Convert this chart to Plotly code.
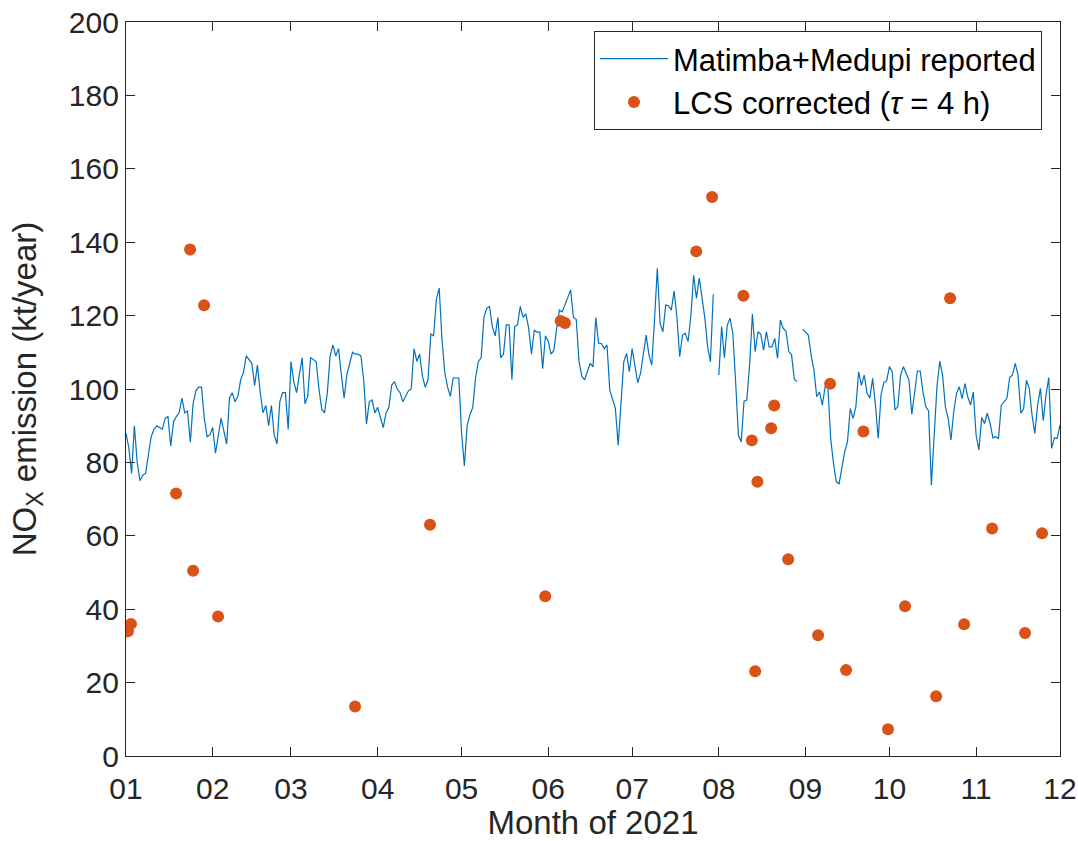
import plotly.graph_objects as go
import pandas as pd

# Daily reported NOx emission (kt/year), Matimba+Medupi, 2021-01-01 .. 2021-12-01
nox_jan = [88, 84, 77, 90, 80, 75, 76.5, 77, 82, 87, 89, 90, 89.5, 89, 92, 92.5, 84.5, 91, 92.5, 93.5,
           97.5, 93.5, 94, 85.5, 96, 99.5, 100.5, 100.5, 92, 87, 87.5]
nox_feb = [89.5, 82.5, 87.5, 92, 88.5, 85, 97.5, 99, 96.5, 98, 102.5, 104.5, 109, 108, 107, 101, 106.5,
           99, 93.5, 95.5, 90, 95.5, 87.5, 85, 96.5, 99, 99, 89]
nox_mar = [107.5, 102, 99, 104, 108.5, 96, 98, 108.5, 108, 107.5, 100, 94.5, 93.5, 99, 109, 112, 109,
           111, 104, 97.5, 104, 107, 110, 109.5, 109.5, 109, 102.5, 90.5, 96.5, 97, 93.5]
nox_apr = [95, 92, 89.5, 93.5, 95, 101, 102, 100, 99, 96.5, 98, 99.5, 100, 111, 107.5, 109.5, 103.5,
           100.5, 102.5, 115, 114.5, 124.5, 127.5, 113.5, 104.5, 100.5, 98, 103, 103, 103]
nox_may = [88, 79, 90, 93, 95, 103, 107.5, 108.5, 119.5, 122, 122.5, 117, 114.5, 119.5, 108.5, 109.5,
           117.5, 117.5, 102.5, 117, 117.5, 122.5, 119.5, 120.5, 116.5, 109.5, 116, 115.5, 115.5, 105.5, 114.5]
nox_jun = [113, 109.5, 110.5, 116.5, 121.5, 121, 123, 125, 127, 119.5, 119, 107.5, 103.5, 102.5, 104.5,
           107, 106, 119.5, 112.5, 112.4, 111, 112, 99.7, 97.3, 94.7, 84.7, 95.2, 107.4, 109.7, 104.7]
nox_jul = [111, 106, 101.7, 104.3, 110.2, 114.7, 109.3, 106.5, 118.8, 132.9, 117.9, 115.6, 122.9, 122.7,
           121.5, 126.7, 119.7, 108.8, 114.7, 115.2, 112.9, 120, 131, 124.7, 130.2, 125.2, 119.3, 111.5,
           107.4, 125.8, None]
nox_aug = [103.8, 117, 108.5, 117.4, 119.3, 115.2, 102, 87.4, 85.6, 96.7, 97, 106.5, 120.4, 110.2, 115.6,
           114.9, 110.6, 115.6, 111.5, 111.5, 113.8, 108.3, 118.8, 116.5, 115.8, 110.2, 109.3, 102.7, 102,
           None, 116.3]
nox_sep = [115.5, 114.7, 109.3, 105.2, 97.9, 99.2, 95.6, 100.6, 100.6, 86.5, 79.7, 74.7, 74.2, 78.4, 82.9,
           85.6, 94.7, 92, 95.2, 104.7, 101, 103.8, 98.8, 97.6, 102.9, 95.6, 86.5, 98.4, 101.8, 102.2]
nox_oct = [106.1, 104.7, 94.3, 95.2, 103.8, 106.1, 104.3, 102.4, 93.1, 99.2, 104.9, 104.9, 99.2, 95.2, 94,
           73.8, 87, 100.6, 107.6, 103.8, 95.2, 92, 86.1, 93.8, 98.8, 100.6, 97.4, 101.5, 97.9, 95.6, 99.2]
nox_nov_dec1 = [87.4, 83.4, 92.2, 90.6, 93.4, 90.6, 86.7, 87, 86.5, 95.6, 96.5, 97.4, 103.1, 103.8, 107,
                103.8, 93.4, 94.7, 102.4, 100.2, 92.9, 87.9, 95.6, 100.2, 91.4, 98.4, 103.1, 83.8, 86.7,
                86.5, 90.2]

nox_reported = (nox_jan + nox_feb + nox_mar + nox_apr + nox_may + nox_jun + nox_jul + nox_aug
                + nox_sep + nox_oct + nox_nov_dec1)
report_dates = pd.date_range("2021-01-01", periods=len(nox_reported), freq="D")

# LCS corrected estimates (tau = 4 h)
lcs_dates = ["2021-01-01 17:00", "2021-01-02 19:00", "2021-01-18 22:00", "2021-01-23 22:00",
             "2021-01-25 00:00", "2021-01-28 22:00", "2021-02-02 22:00", "2021-03-23 22:00",
             "2021-04-19 17:00", "2021-05-30 22:00", "2021-06-05 10:00", "2021-06-07 00:00",
             "2021-07-23 22:00", "2021-07-29 14:00", "2021-08-09 19:00", "2021-08-12 19:00",
             "2021-08-14 00:00", "2021-08-14 19:00", "2021-08-19 17:00", "2021-08-20 19:00",
             "2021-08-25 19:00", "2021-09-05 12:00", "2021-09-09 19:00", "2021-09-15 12:00",
             "2021-09-21 17:00", "2021-09-30 12:00", "2021-10-06 14:00", "2021-10-17 17:00",
             "2021-10-22 17:00", "2021-10-27 17:00", "2021-11-06 17:00", "2021-11-18 12:00",
             "2021-11-24 14:00"]
lcs_values = [34, 36, 71.5, 138, 50.5, 122.8, 38, 13.5,
              63, 43.5, 118.5, 118, 137.5, 152.3, 125.4, 86,
              23.1, 74.7, 89.3, 95.5, 53.6, 32.9, 101.4, 23.4,
              88.4, 7.3, 40.8, 16.3, 124.7, 35.9, 62, 33.5, 60.7]

FONT = "Liberation Sans, Arial, Helvetica, sans-serif"
INK = "#262626"

fig = go.Figure()
fig.add_trace(go.Scatter(
    x=report_dates, y=nox_reported, mode="lines", connectgaps=False,
    line=dict(color="#0072BD", width=1.2),
    name="Matimba+Medupi reported"))
fig.add_trace(go.Scatter(
    x=pd.to_datetime(lcs_dates), y=lcs_values, mode="markers",
    marker=dict(color="#D95319", size=12, line=dict(width=0)),
    name="LCS corrected (<i>τ</i> = 4 h)"))

axis_common = dict(
    showgrid=False, zeroline=False, showline=True, linecolor=INK, linewidth=1.3,
    mirror="allticks", ticks="inside", ticklen=9, tickwidth=1, tickcolor=INK,
    tickfont=dict(family=FONT, size=30, color=INK),
)

fig.update_layout(
    template="none",
    width=1078, height=841,
    margin=dict(l=126, r=18, t=22, b=85),
    paper_bgcolor="white", plot_bgcolor="white",
    font=dict(family=FONT, color=INK),
    showlegend=True,
    legend=dict(
        x=0.9807, y=0.9877, xanchor="right", yanchor="top",
        bgcolor="white", bordercolor=INK, borderwidth=1,
        font=dict(family=FONT, size=31, color="black"),
        tracegroupgap=0, itemwidth=68,
    ),
    xaxis=dict(
        type="date", range=["2021-01-01", "2021-12-01"],
        tick0="2021-01-01", dtick="M1", tickformat="%m",
        ticklabelstandoff=6,
        title=dict(text="Month of 2021", font=dict(family=FONT, size=33, color=INK), standoff=19),
        **axis_common,
    ),
    yaxis=dict(
        range=[0, 200], dtick=20, tick0=0,
        title=dict(text="NO<sub>X</sub> emission (kt/year)", font=dict(family=FONT, size=33, color=INK),
                   standoff=22),
        **axis_common,
    ),
)

fig.write_html("out.html")
